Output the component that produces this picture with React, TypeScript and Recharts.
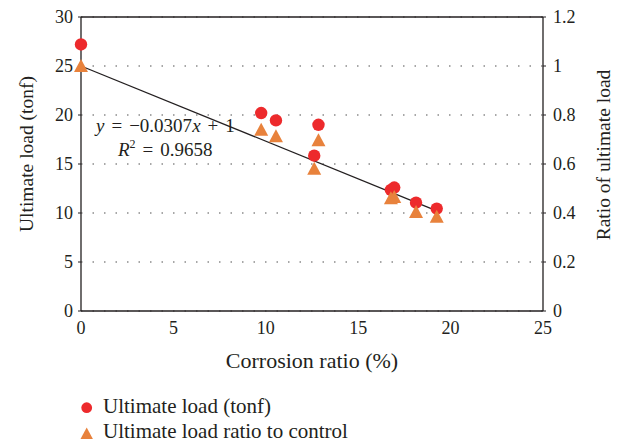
import React from 'react';
import {
  ComposedChart, Scatter, Line, XAxis, YAxis, CartesianGrid, ReferenceLine, Legend, Customized
} from 'recharts';

// values
const corrosion = [0, 9.75, 10.55, 12.62, 12.85, 16.77, 16.95, 18.13, 19.25];
const ultimateLoad = [27.2, 20.2, 19.45, 15.85, 19.0, 12.35, 12.6, 11.05, 10.45];
const loadRatio = [1.0, 0.74, 0.713, 0.581, 0.697, 0.46, 0.465, 0.404, 0.385];
const trendX = [0, 19.25];
const trendY = [1, 0.409];

const xTicks = [0, 5, 10, 15, 20, 25];
const leftTicks = [0, 5, 10, 15, 20, 25, 30];
const rightTicks = [0, 0.2, 0.4, 0.6, 0.8, 1, 1.2];

const RED = '#ED2A2C';
const ORANGE = '#E8823C';
const INK = '#231F20';
const FONT = "'Liberation Serif', 'Times New Roman', Times, serif";

const loadData = corrosion.map((x, i) => ({ x, load: ultimateLoad[i] }));
const ratioData = corrosion.map((x, i) => ({ x, ratio: loadRatio[i] }));
const trendData = trendX.map((x, i) => ({ x, ratio: trendY[i] }));

const Dot = (props: any) => <circle cx={props.cx} cy={props.cy} r={6.2} fill={RED} />;
const Tri = (props: any) => {
  const { cx, cy } = props;
  return <path d={`M${cx},${cy - 7} L${cx + 7},${cy + 6} L${cx - 7},${cy + 6} Z`} fill={ORANGE} />;
};

const tickStyle = { fill: INK, fontSize: 18, fontFamily: FONT };

const LegendBox = () => (
  <svg width={320} height={52}>
    <circle cx={8.7} cy={14.7} r={5.4} fill={RED} />
    <text x={25} y={20.3} fontSize={21} fill={INK} fontFamily={FONT}>Ultimate load (tonf)</text>
    <path d="M8.7,34.5 L14.9,46 L2.5,46 Z" fill={ORANGE} />
    <text x={25} y={45.3} fontSize={21} fill={INK} fontFamily={FONT}>Ultimate load ratio to control</text>
  </svg>
);

// trend line equation, drawn as two separate lines
const Equation = () => (
  <g fontFamily={FONT} fontSize={19} fill={INK}>
    <text x={96} y={132} fontFamily={FONT}>
      <tspan fontStyle="italic">y</tspan>
      <tspan dx={7}>=</tspan>
      <tspan dx={7}>−0.0307</tspan>
      <tspan fontStyle="italic">x</tspan>
      <tspan dx={7}>+</tspan>
      <tspan dx={7}>1</tspan>
    </text>
    <text x={118} y={156} fontFamily={FONT}>
      <tspan fontStyle="italic">R</tspan>
      <tspan fontSize={12} dy={-8}>2</tspan>
      <tspan dy={8} dx={7}>=</tspan>
      <tspan dx={7}>0.9658</tspan>
    </text>
  </g>
);

export default function App() {
  return (
    <div style={{ position: 'absolute', left: 0, top: 0, width: 620, height: 445, background: '#fff', fontFamily: FONT }}>
      <ComposedChart width={620} height={445} margin={{ top: 17, right: 0, left: 0, bottom: 104 }} style={{ fontFamily: FONT }}>
        <CartesianGrid horizontal vertical={false} yAxisId="left" stroke="#8a8a8a" strokeWidth={1.5} strokeDasharray="1.5 10" />
        <XAxis
          dataKey="x" type="number" domain={[0, 25]} ticks={xTicks} height={30}
          axisLine={{ stroke: INK, strokeWidth: 1.3 }} tickLine={false} tickSize={0} tickMargin={10}
          tick={tickStyle}
          label={{ content: () => <text x={312} y={368} textAnchor="middle" fontSize={22} fontFamily={FONT} fill={INK}>Corrosion ratio (%)</text> }}
        />
        <YAxis
          yAxisId="left" orientation="left" width={81} domain={[0, 30]} ticks={leftTicks}
          axisLine={{ stroke: INK, strokeWidth: 1.3 }} tickLine={{ stroke: INK }} tickSize={3} tickMargin={5}
          tick={tickStyle}
          label={{ content: () => <text x={0} y={0} transform="translate(33,154) rotate(-90)" textAnchor="middle" fontSize={19.5} fontFamily={FONT} fill={INK}>Ultimate load (tonf)</text> }}
        />
        <YAxis
          yAxisId="right" orientation="right" width={77} domain={[0, 1.2]} ticks={rightTicks}
          axisLine={{ stroke: INK, strokeWidth: 1.3 }} tickLine={{ stroke: INK }} tickSize={3} tickMargin={7}
          tick={{ ...tickStyle, textAnchor: 'start' }}
          label={{ content: () => <text x={0} y={0} transform="translate(610,155) rotate(-90)" textAnchor="middle" fontSize={19.5} fontFamily={FONT} fill={INK}>Ratio of ultimate load</text> }}
        />
        <ReferenceLine yAxisId="left" y={30} stroke={INK} strokeWidth={1.3} />
        <Line
          data={trendData} dataKey="ratio" yAxisId="right" stroke={INK} strokeWidth={1.3}
          dot={false} legendType="none" isAnimationActive={false}
        />
        <Scatter name="Ultimate load (tonf)" data={loadData} dataKey="load" yAxisId="left" fill={RED} shape={Dot} isAnimationActive={false} />
        <Scatter name="Ultimate load ratio to control" data={ratioData} dataKey="ratio" yAxisId="right" fill={ORANGE} shape={Tri} isAnimationActive={false} />
        <Customized component={Equation} />
        <Legend
          layout="horizontal" verticalAlign="middle" align="center"
          wrapperStyle={{ left: 78, top: 393, width: 320 }}
          content={() => <LegendBox />}
        />
      </ComposedChart>
    </div>
  );
}
